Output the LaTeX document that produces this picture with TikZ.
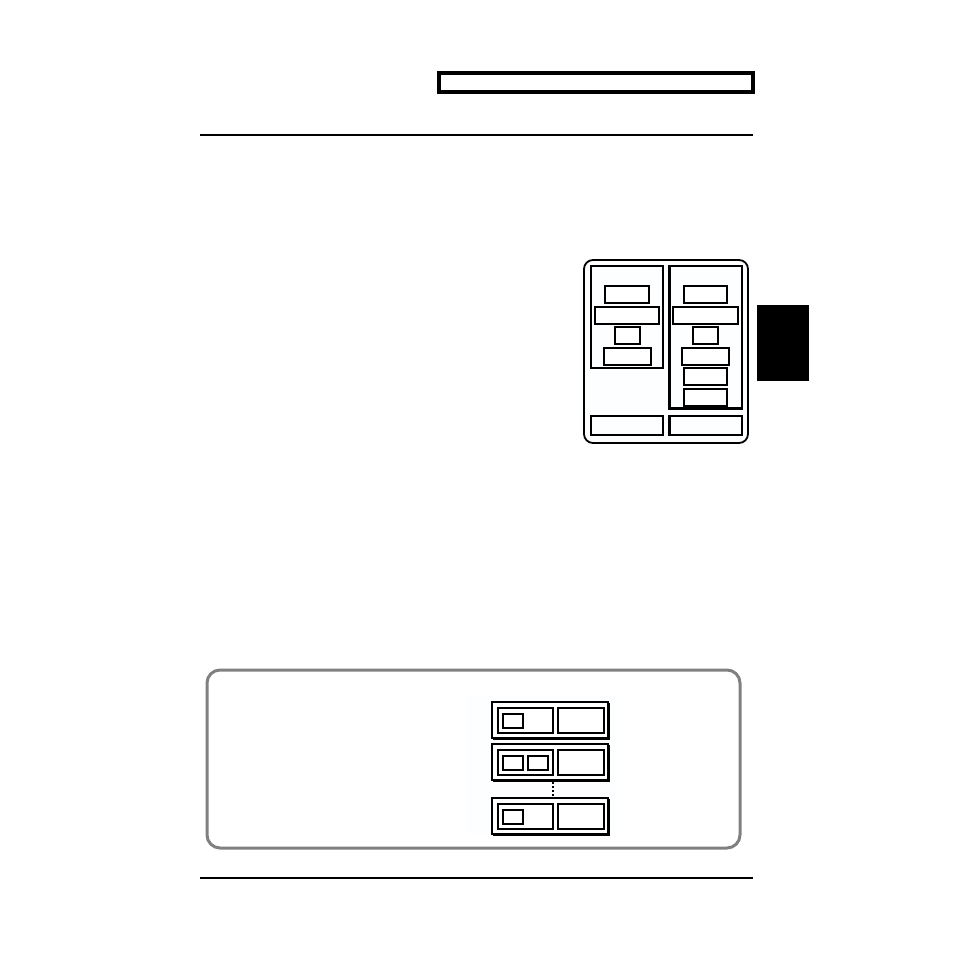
\documentclass[tikz,border=0pt]{standalone}
\usepackage{tikz}
\usetikzlibrary{positioning}

\begin{document}
\begin{tikzpicture}[x=1pt,y=-1pt,
  thin line/.style={draw=black,line width=1.1pt},
  rule line/.style={draw=black,line width=1.4pt},
  frame box/.style={draw=black,line width=1.8pt,rounded corners=9pt,fill=white!99!cyan},
  note frame/.style={draw=black!50,line width=3pt,rounded corners=13pt},
  slot box/.style={draw=black,line width=1.1pt,fill=white}]
  \useasboundingbox (0,0) rectangle (954,954);

  % header bar and rules
  \draw[line width=3.2pt] (439,73) rectangle (753,92);
  \draw[rule line] (200,135) -- (753,135);
  \draw[rule line] (200,878) -- (753,878);
  \fill[black] (757,305) rectangle (809,381);

  % panel on the right
  \draw[frame box] (584,260) rectangle (748,443);
  \draw[thin line] (591,266) rectangle (663,368);
  \draw[thin line] (669,266) rectangle (742,409);
  \draw[line width=2.2pt] (669.5,266) -- (669.5,408.5) -- (742,408.5);
  \draw[thin line] (591,416) rectangle (663,435);
  \draw[thin line] (669,416) rectangle (742,435);
  \draw[line width=2.2pt] (669.5,416) -- (669.5,435);
  % left column
  \draw[slot box] (605,286) rectangle (649,303);
  \draw[slot box] (595,307) rectangle (659,324);
  \draw[slot box] (615,327) rectangle (640,344);
  \draw[slot box] (604,348) rectangle (651,365);
  % right column
  \draw[slot box] (684,286) rectangle (727,303);
  \draw[slot box] (673,307) rectangle (738,324);
  \draw[slot box] (693,327) rectangle (718,344);
  \draw[slot box] (682,348) rectangle (729,365);
  \draw[slot box] (684,368) rectangle (727,385);
  \draw[slot box] (684,389) rectangle (727,406);

  % note at the bottom
  \draw[note frame] (207,670) rectangle (740,848);
  \fill[white!99!cyan] (467,695) rectangle (617,836);
  \foreach \y/\n in {702/1,744/2,798/1} {
    \fill[black] (493,\y+1) rectangle (610,\y+38);
    \draw[slot box] (492,\y) rectangle (608,\y+36);
    \draw[slot box] (498,\y+6) rectangle (553,\y+31);
    \draw[slot box] (558,\y+6) rectangle (604,\y+31);
    \draw[slot box] (503,\y+12) rectangle (523,\y+26);
    \ifnum\n=2
      \draw[slot box] (528,\y+12) rectangle (548,\y+26);
    \fi
  }
  \draw[line width=2pt,dash pattern=on 2pt off 2pt] (553,782) -- (553,796);
\end{tikzpicture}
\end{document}
